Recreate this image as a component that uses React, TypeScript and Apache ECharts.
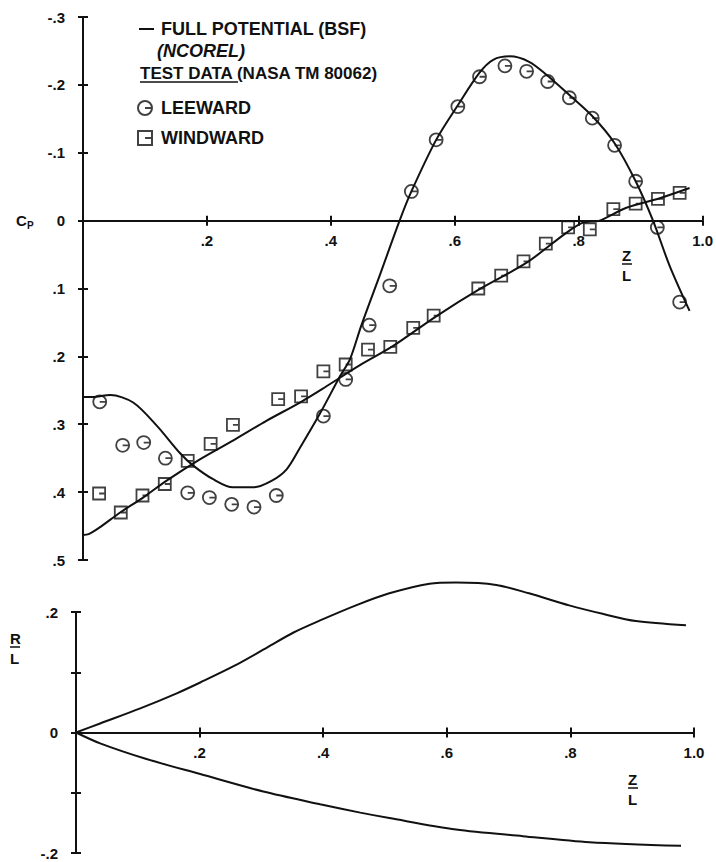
import { useEffect, useRef } from 'react';
import * as echarts from 'echarts';

// ---- tick labels ----
const zTickLabels = ['', '.2', '.4', '.6', '.8', '1.0'];
const cpTickLabels = ['-.3', '-.2', '-.1', '0', '.1', '.2', '.3', '.4', '.5'];
const rTickLabels = ['-.2', '', '0', '', '.2'];

// ---- full potential (BSF) theory curves, Cp vs Z/L ----
const leeTheoryZ = [0, 0.015, 0.044, 0.081, 0.119, 0.156, 0.178, 0.21, 0.242, 0.275, 0.305, 0.329, 0.35, 0.382, 0.415, 0.431, 0.449, 0.48, 0.511, 0.53, 0.57, 0.605, 0.64, 0.662, 0.689, 0.72, 0.748, 0.785, 0.823, 0.858, 0.892, 0.92, 0.947, 0.979];
const leeTheoryCp = [0.26, 0.26, 0.257, 0.268, 0.302, 0.342, 0.361, 0.381, 0.393, 0.393, 0.383, 0.366, 0.335, 0.285, 0.229, 0.204, 0.155, 0.078, 0, -0.043, -0.119, -0.17, -0.218, -0.237, -0.242, -0.234, -0.215, -0.185, -0.153, -0.114, -0.058, 0, 0.067, 0.133];
const windTheoryZ = [0, 0.009, 0.027, 0.06, 0.097, 0.135, 0.188, 0.242, 0.296, 0.35, 0.393, 0.447, 0.5, 0.57, 0.64, 0.716, 0.78, 0.807, 0.834, 0.877, 0.931, 0.979];
const windTheoryCp = [0.463, 0.462, 0.452, 0.43, 0.408, 0.383, 0.352, 0.324, 0.295, 0.268, 0.244, 0.213, 0.185, 0.141, 0.101, 0.062, 0.018, 0.003, 0, -0.019, -0.033, -0.048];

// ---- test data (NASA TM 80062) ----
const leewardZ = [0.027, 0.064, 0.098, 0.133, 0.169, 0.204, 0.24, 0.276, 0.312, 0.388, 0.424, 0.462, 0.495, 0.53, 0.57, 0.605, 0.64, 0.681, 0.716, 0.75, 0.785, 0.822, 0.858, 0.892, 0.927, 0.963];
const leewardCp = [0.267, 0.331, 0.327, 0.35, 0.401, 0.408, 0.418, 0.422, 0.405, 0.288, 0.234, 0.154, 0.096, -0.043, -0.119, -0.168, -0.212, -0.228, -0.22, -0.205, -0.181, -0.151, -0.111, -0.058, 0.01, 0.12];
const windwardZ = [0.026, 0.061, 0.096, 0.132, 0.169, 0.206, 0.242, 0.315, 0.352, 0.388, 0.424, 0.46, 0.496, 0.533, 0.566, 0.638, 0.675, 0.711, 0.747, 0.783, 0.818, 0.856, 0.892, 0.928, 0.963];
const windwardCp = [0.402, 0.43, 0.405, 0.388, 0.354, 0.329, 0.301, 0.263, 0.259, 0.222, 0.212, 0.19, 0.186, 0.158, 0.14, 0.1, 0.081, 0.06, 0.034, 0.01, 0.013, -0.017, -0.025, -0.032, -0.041];

// ---- body radius R/L vs Z/L ----
const upperZ = [0, 0.039, 0.104, 0.163, 0.201, 0.255, 0.309, 0.352, 0.395, 0.453, 0.507, 0.572, 0.615, 0.68, 0.733, 0.798, 0.852, 0.906, 0.987];
const upperR = [0, 0.015, 0.04, 0.065, 0.083, 0.11, 0.141, 0.166, 0.186, 0.211, 0.231, 0.247, 0.249, 0.245, 0.231, 0.211, 0.197, 0.185, 0.178];
const lowerZ = [0, 0.039, 0.114, 0.201, 0.303, 0.395, 0.46, 0.507, 0.615, 0.723, 0.831, 0.979];
const lowerR = [0, -0.018, -0.044, -0.069, -0.098, -0.119, -0.133, -0.142, -0.161, -0.172, -0.182, -0.188];

const pairs = (xs: number[], ys: number[]) => xs.map((x, i) => [x, ys[i]]);

const INK = '#111';
const FONT = 'Liberation Sans';
const circleSym = 'path://M6,0A6,6,0,1,1,-6,0A6,6,0,1,1,6,0ZM0,0L6,0';
const squareSym = 'path://M-6,-6L6,-6L6,6L-6,6ZM0,0L6,0';

const lineStyle = { color: INK, width: 2 };
const labelFont = { fontFamily: FONT, fontWeight: 'bold' as const, fontSize: 15, color: INK };

// grid layout
const TOP_GRID = { left: 83, top: 17, width: 620, height: 543 };
const BOT_GRID = { left: 76, top: 612, width: 618, height: 241 };
const CP_MIN = -0.3, CP_MAX = 0.5;
const R_MIN = -0.2, R_MAX = 0.2;

function zFmt(v: number) {
  return zTickLabels[Math.round(v / 0.2)] ?? '';
}

// place the x axis on the y = 0 line of its grid
function xAxes(grid: number, zeroOffset: number) {
  return [
    {
      gridIndex: grid, type: 'value', min: 0, max: 1, interval: 0.2, position: 'bottom', offset: zeroOffset,
      axisLine: { show: true, onZero: false, lineStyle },
      axisTick: { show: true, inside: false, length: 5, lineStyle },
      axisLabel: { ...labelFont, margin: 12, formatter: zFmt },
      splitLine: { show: false },
    },
    {
      gridIndex: grid, type: 'value', min: 0, max: 1, interval: 0.2, position: 'bottom', offset: zeroOffset,
      axisLine: { show: false, onZero: false },
      axisTick: { show: true, inside: true, length: 5, lineStyle },
      axisLabel: { show: false },
      splitLine: { show: false },
    },
  ];
}

function yAxes(grid: number, min: number, max: number, inverse: boolean, labels: string[]) {
  const fmt = (v: number) => labels[Math.round((v - min) / 0.1)] ?? '';
  return [
    {
      gridIndex: grid, type: 'value', min, max, interval: 0.1, inverse, position: 'left',
      axisLine: { show: true, onZero: false, lineStyle },
      axisTick: { show: true, inside: false, length: 5, lineStyle },
      axisLabel: { ...labelFont, margin: 18, formatter: fmt },
      splitLine: { show: false },
    },
    {
      gridIndex: grid, type: 'value', min, max, interval: 0.1, inverse, position: 'left',
      axisLine: { show: false, onZero: false },
      axisTick: { show: true, inside: true, length: 5, lineStyle },
      axisLabel: { show: false },
      splitLine: { show: false },
    },
  ];
}

function fraction(cx: number, top: number, num: string, den: string) {
  return [
    { type: 'text', left: cx - 5, top, style: { text: num, font: `bold 15px "${FONT}"`, fill: INK } },
    { type: 'line', shape: { x1: cx - 5, y1: top + 16, x2: cx + 5, y2: top + 16 }, style: { stroke: INK, lineWidth: 1.5 } },
    { type: 'text', left: cx - 5, top: top + 20, style: { text: den, font: `bold 15px "${FONT}"`, fill: INK } },
  ];
}

export default function App() {
  const ref = useRef<HTMLDivElement>(null);
  useEffect(() => {
    if (!ref.current) return;
    const chart = echarts.init(ref.current, null, { renderer: 'svg' });
    const theoryCommon = {
      type: 'line', xAxisIndex: 0, yAxisIndex: 0, smooth: 0.3, symbol: 'none', clip: false,
      lineStyle, itemStyle: { color: INK },
    };
    const rCommon = {
      type: 'line', xAxisIndex: 2, yAxisIndex: 2, smooth: 0.3, symbol: 'none', clip: false,
      lineStyle, itemStyle: { color: INK },
    };
    // inverse Cp axis: 0 lies CP_MAX/(CP_MAX-CP_MIN) of the height above the bottom edge
    const topZeroOffset = -TOP_GRID.height * (CP_MAX / (CP_MAX - CP_MIN));
    const botZeroOffset = -BOT_GRID.height * ((0 - R_MIN) / (R_MAX - R_MIN));
    const option: any = {
      animation: false,
      backgroundColor: '#fff',
      grid: [TOP_GRID, BOT_GRID],
      xAxis: [...xAxes(0, topZeroOffset), ...xAxes(1, botZeroOffset)],
      yAxis: [
        ...yAxes(0, CP_MIN, CP_MAX, true, cpTickLabels),
        ...yAxes(1, R_MIN, R_MAX, false, rTickLabels),
      ],
      legend: [
        {
          left: 134, top: 15, itemWidth: 15, itemHeight: 2, icon: 'rect',
          data: ['FULL POTENTIAL (BSF)'],
          textStyle: { fontFamily: FONT, fontWeight: 'bold', fontSize: 18, color: INK, padding: [0, 0, 0, 2] },
          selectedMode: false,
        },
        {
          left: 132, top: 94, orient: 'vertical', itemWidth: 14, itemHeight: 14, itemGap: 12,
          data: ['LEEWARD', 'WINDWARD'],
          textStyle: { fontFamily: FONT, fontWeight: 'bold', fontSize: 18, color: INK, padding: [0, 0, 0, 4] },
          selectedMode: false,
        },
      ],
      graphic: [
        { type: 'text', left: 157, top: 42, style: { text: '(NCOREL)', font: `italic bold 18px "${FONT}"`, fill: INK } },
        { type: 'text', left: 140, top: 65, style: { text: 'TEST DATA (NASA TM 80062)', font: `bold 17px "${FONT}"`, fill: INK } },
        { type: 'line', shape: { x1: 140, y1: 82, x2: 238, y2: 82 }, style: { stroke: INK, lineWidth: 1.5 } },
        { type: 'text', left: 16, top: 213, style: { text: 'C', font: `bold 15px "${FONT}"`, fill: INK } },
        { type: 'text', left: 27, top: 220, style: { text: 'P', font: `bold 10px "${FONT}"`, fill: INK } },
        ...fraction(627, 248, 'Z', 'L'),
        ...fraction(15, 631, 'R', 'L'),
        ...fraction(633, 772, 'Z', 'L'),
      ],
      series: [
        { ...theoryCommon, name: 'FULL POTENTIAL (BSF)', data: pairs(leeTheoryZ, leeTheoryCp) },
        { ...theoryCommon, name: 'FULL POTENTIAL (BSF)', data: pairs(windTheoryZ, windTheoryCp) },
        {
          name: 'LEEWARD', type: 'scatter', xAxisIndex: 0, yAxisIndex: 0, symbol: circleSym, symbolSize: 13,
          symbolKeepAspect: true, clip: false, data: pairs(leewardZ, leewardCp),
          itemStyle: { color: 'rgba(255,255,255,0)', borderColor: INK, borderWidth: 1.8 },
        },
        {
          name: 'WINDWARD', type: 'scatter', xAxisIndex: 0, yAxisIndex: 0, symbol: squareSym, symbolSize: 12,
          symbolKeepAspect: true, clip: false, data: pairs(windwardZ, windwardCp),
          itemStyle: { color: 'rgba(255,255,255,0)', borderColor: INK, borderWidth: 1.8 },
        },
        { ...rCommon, name: 'R/L upper', data: pairs(upperZ, upperR) },
        { ...rCommon, name: 'R/L lower', data: pairs(lowerZ, lowerR) },
      ],
    };
    chart.setOption(option);
    return () => chart.dispose();
  }, []);
  return <div ref={ref} style={{ position: 'fixed', left: 0, top: 0, width: 716, height: 862, background: '#fff' }} />;
}
